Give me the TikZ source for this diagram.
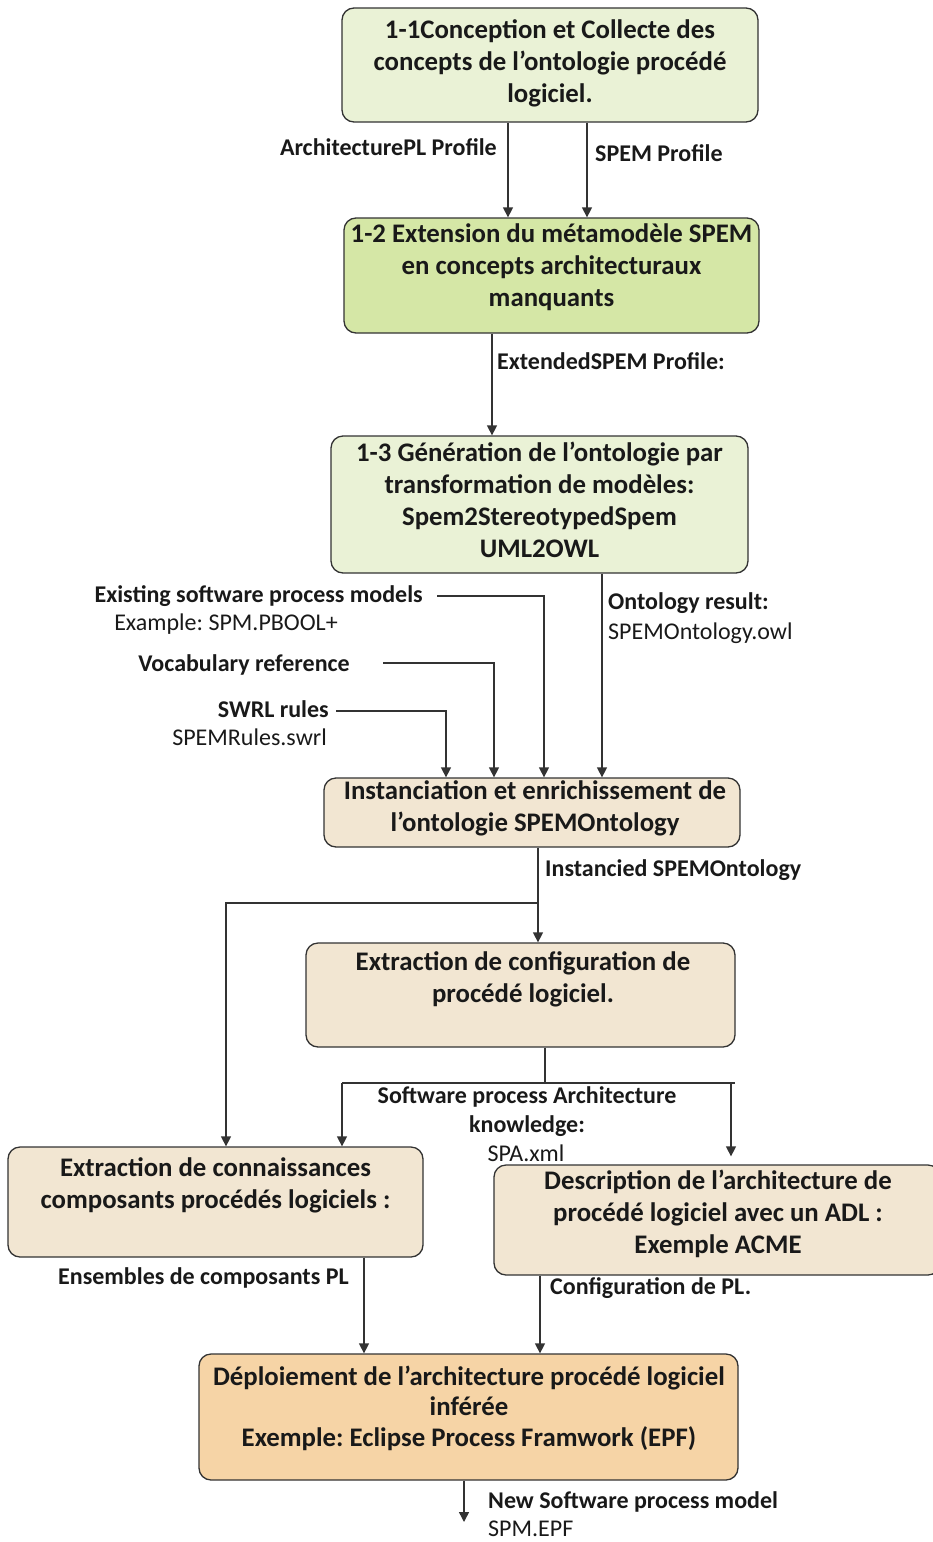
\documentclass[tikz,border=0pt]{standalone}
\usepackage{fontspec}
\setmainfont{Carlito}
\usetikzlibrary{arrows.meta}
\frenchspacing

\definecolor{palegreen}{HTML}{EAF2D6}
\definecolor{leafgreen}{HTML}{D5E7A6}
\definecolor{sand}{HTML}{F2E6D2}
\definecolor{apricot}{HTML}{F6D4A6}
\definecolor{ink}{HTML}{333333}

\newcommand\boxfont{\fontsize{26.8}{32}\selectfont\bfseries}
\newcommand\lblfont{\fontsize{24}{29}\selectfont\bfseries}
\newcommand\lblregfont{\fontsize{24}{29}\selectfont}

\tikzset{
  box/.style={draw=ink, line width=1.3pt, rounded corners=12pt, inner sep=0pt},
  boxtext/.style={align=center, font=\boxfont, inner sep=0pt, text=black!90},
  lbl/.style={font=\lblfont, inner sep=0pt, text=black!90},
  lblreg/.style={font=\lblregfont, inner sep=0pt, text=black!90},
  wire/.style={draw=ink, line width=1.4pt},
  arr/.style={wire, -{Triangle[width=10pt,length=10pt]}},
}

\begin{document}
\begin{tikzpicture}[x=1pt,y=-1pt]
\useasboundingbox (0,0) rectangle (932,1542);

% ---- process boxes ----
\node[box, fill=palegreen, minimum width=416pt, minimum height=114pt] (b1) at (550,65) {};
\node[boxtext] (t1) at (550,63) {1-1Conception et Collecte des\\concepts de l’ontologie procédé\\logiciel.};

\node[box, fill=leafgreen, minimum width=415pt, minimum height=115pt] (b2) at (551.5,275.5) {};
\node[boxtext] (t2) at (551.5,267) {1-2 Extension du métamodèle SPEM\\en concepts architecturaux\\manquants};

\node[box, fill=palegreen, minimum width=417pt, minimum height=137pt] (b3) at (539.5,504.5) {};
\node[boxtext] (t3) at (539.5,500) {1-3 Génération de l’ontologie par\\transformation de modèles:\\Spem2StereotypedSpem\\UML2OWL};

\node[box, fill=sand, minimum width=416pt, minimum height=69pt] (b4) at (532,812.5) {};
\node[boxtext] (t4) at (535,808) {Instanciation et enrichissement de\\l’ontologie SPEMOntology};

\node[box, fill=sand, minimum width=429pt, minimum height=104pt] (b5) at (520.5,995) {};
\node[boxtext] (t5) at (523,979) {Extraction de configuration de\\procédé logiciel.};

\node[box, fill=sand, minimum width=415pt, minimum height=110pt] (b6) at (215.5,1202) {};
\node[boxtext] (t6) at (215.5,1185) {Extraction de connaissances\\composants procédés logiciels :};

\node[box, fill=sand, minimum width=446pt, minimum height=110pt] (b7) at (717,1220) {};
\node[boxtext] (t7) at (718,1214) {Description de l’architecture de\\procédé logiciel avec un ADL :\\Exemple ACME};

\node[box, fill=apricot, minimum width=539pt, minimum height=126pt] (b8) at (468.5,1417) {};
\node[boxtext, font=\fontsize{26.8}{30.5}\selectfont\bfseries] (t8) at (469,1408) {Déploiement de l’architecture procédé logiciel\\inférée\\Exemple: Eclipse Process Framwork (EPF)};

% ---- edge labels and inputs ----
\node[lbl, anchor=east] (l1) at (497,147) {ArchitecturePL Profile};
\node[lbl, anchor=west] (l2) at (595,153) {SPEM Profile};
\node[lbl, anchor=west] (l3) at (497,361) {ExtendedSPEM Profile:};
\node[lbl, anchor=west] (l4) at (608,603) {Ontology result:};
\node[lblreg, anchor=west] (l4b) at (608,633) {SPEMOntology.owl};
\node[lbl, anchor=east] (ex) at (423,596) {Existing software process models};
\node[lblreg, anchor=east] (exb) at (338,624) {Example: SPM.PBOOL+};
\node[lbl, anchor=east] (voc) at (350,665) {Vocabulary reference};
\node[lbl, anchor=east] (swrl) at (329,709) {SWRL rules};
\node[lblreg, anchor=east] (swrlb) at (327,737) {SPEMRules.swrl};
\node[lbl, anchor=west] (l5) at (545,870) {Instancied SPEMOntology};
\node[lbl] (l6) at (527,1097) {Software process Architecture};
\node[lbl] (l6b) at (527,1126) {knowledge:};
\node[lblreg] (l6c) at (526,1153) {SPA.xml};
\node[lbl, anchor=west] (l7) at (58,1278) {Ensembles de composants PL};
\node[lbl, anchor=west] (l8) at (550,1288) {Configuration de PL.};
\node[lbl, anchor=west] (l9) at (488,1502) {New Software process model};
\node[lblreg, anchor=west] (l9b) at (488,1529) {SPM.EPF};

% ---- junction points ----
\coordinate (split1) at (538,903);
\coordinate (split2) at (545,1083);
\coordinate (barL) at (342,1083);
\coordinate (barR) at (735,1083);
\coordinate (outEnd) at (464,1522);

% ---- connectors ----
\draw[arr] ([xshift=-42pt]b1.south) -- ([xshift=-42pt]b1.south |- b2.north);
\draw[arr] ([xshift=37pt]b1.south) -- ([xshift=37pt]b1.south |- b2.north);
\draw[arr] ([xshift=-59.5pt]b2.south) -- ([xshift=-59.5pt]b2.south |- b3.north);
\draw[arr] ([xshift=62.5pt]b3.south) -- ([xshift=62.5pt]b3.south |- b4.north);
\draw[arr] ([xshift=14pt]ex.east) -| ([xshift=12pt]b4.north);
\draw[arr] ([xshift=33pt,yshift=2pt]voc.east) -| ([xshift=-38pt]b4.north);
\draw[arr] ([xshift=7pt,yshift=-2pt]swrl.east) -| ([xshift=-86pt]b4.north);
\draw[arr] ([xshift=6pt]b4.south) -- ([xshift=6pt]b4.south |- b5.north);
\draw[arr] (split1) -| ([xshift=10.5pt]b6.north);
\draw[wire] ([xshift=24.5pt]b5.south) -- (split2);
\draw[wire, line width=2pt] (barL) -- (barR);
\draw[arr] (barL) -- (barL |- b6.north);
\draw[arr, shorten >=8pt] ([xshift=-4pt]barR) -- ([xshift=-4pt]barR |- b7.north);
\draw[arr] ([xshift=148.5pt]b6.south) -- ([xshift=148.5pt]b6.south |- b8.north);
\draw[arr] ([xshift=-177pt]b7.south) -- ([xshift=-177pt]b7.south |- b8.north);
\draw[arr] ([xshift=-4.5pt]b8.south) -- (outEnd);
\end{tikzpicture}
\end{document}
